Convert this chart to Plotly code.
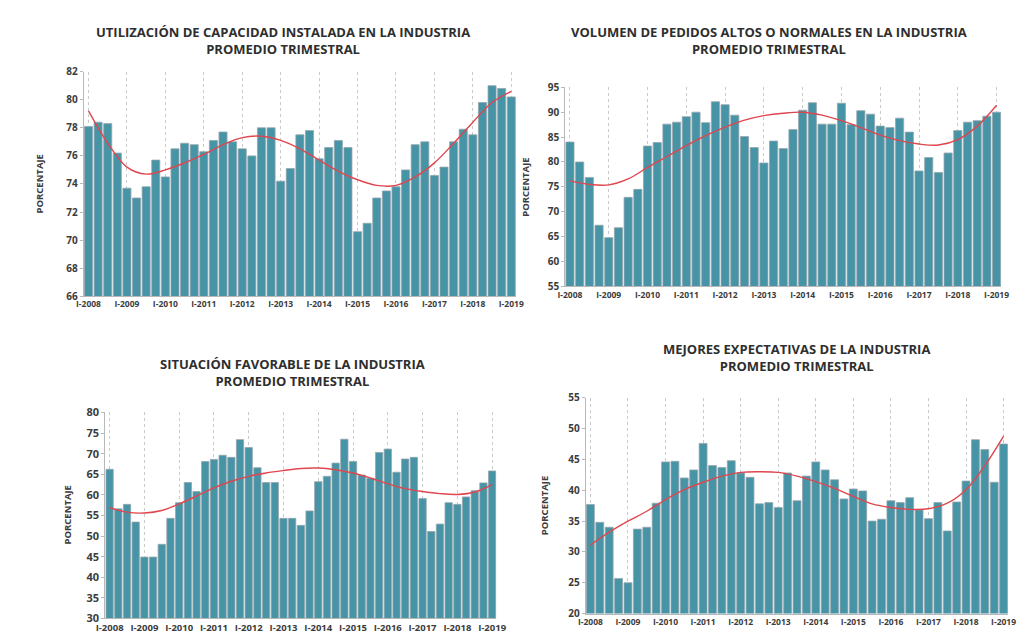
import plotly.graph_objects as go

# ---------------- data ----------------
years = list(range(2008, 2020))
roman = ["I", "II", "III", "IV"]
quarters = [f"{r}-{y}" for y in years for r in roman][:45]
year_ticks = [f"I-{y}" for y in years]

utilizacion = [78.1, 78.4, 78.3, 76.2, 73.7, 73.0, 73.8, 75.7, 74.5, 76.5, 76.9, 76.8, 76.3, 77.1, 77.7,
               77.0, 76.5, 76.0, 78.0, 78.0, 74.2, 75.1, 77.5, 77.8, 75.8, 76.6, 77.1, 76.6, 70.6, 71.2,
               73.0, 73.5, 73.8, 75.0, 76.8, 77.0, 74.6, 75.2, 77.0, 77.9, 77.5, 79.8, 81.0, 80.8, 80.2]
utilizacion_trend = [79.2, 76.9, 75.2, 74.7, 75.0, 75.5, 76.1, 76.8, 77.3, 77.4, 77.1, 76.5,
                     75.7, 74.9, 74.3, 73.9, 73.9, 74.5, 75.5, 76.9, 78.4, 79.8, 80.6]

volumen = [84.0, 80.0, 76.9, 67.3, 64.8, 66.8, 72.9, 74.5, 83.2, 83.9, 87.6, 88.0, 89.1, 90.0, 87.9,
           92.1, 91.5, 89.4, 85.1, 82.9, 79.8, 84.2, 82.7, 86.5, 90.4, 91.9, 87.6, 87.6, 91.8, 87.5,
           90.3, 89.6, 87.2, 86.9, 88.8, 86.0, 78.2, 80.9, 77.9, 81.8, 86.3, 88.0, 88.3, 89.2, 90.0]
volumen_trend = [76.2, 75.5, 75.4, 76.6, 78.9, 81.1, 83.3, 85.3, 87.0, 88.4, 89.3, 89.8,
                 90.0, 89.4, 88.3, 86.9, 85.4, 84.3, 83.6, 83.4, 84.5, 87.2, 91.4]

situacion = [66.2, 56.6, 57.7, 53.4, 44.9, 44.9, 48.0, 54.3, 58.1, 63.0, 60.8, 68.1, 68.6, 69.6, 69.1,
             73.4, 71.5, 66.6, 63.0, 63.0, 54.3, 54.3, 52.6, 56.1, 63.2, 64.5, 67.7, 73.5, 68.1, 64.8,
             64.0, 70.3, 71.1, 65.5, 68.7, 69.1, 59.1, 51.1, 52.9, 58.1, 57.7, 59.5, 61.0, 62.9, 65.8]
situacion_trend = [56.9, 55.8, 55.6, 56.2, 57.8, 59.7, 61.7, 63.3, 64.5, 65.3, 65.9, 66.4,
                   66.5, 66.1, 65.3, 64.1, 62.7, 61.5, 60.8, 60.3, 60.1, 60.7, 62.5]

expectativas = [37.7, 34.8, 34.0, 25.7, 25.0, 33.7, 34.0, 37.9, 44.6, 44.7, 42.0, 43.3, 47.6, 44.0, 43.7,
                44.8, 42.8, 42.1, 37.8, 38.0, 37.2, 42.8, 38.3, 42.3, 44.6, 43.3, 41.7, 38.6, 40.2, 39.9,
                35.0, 35.3, 38.3, 38.0, 38.8, 36.8, 35.4, 38.0, 33.4, 38.1, 41.5, 48.2, 46.6, 41.3, 47.5]
expectativas_trend = [31.1, 33.2, 35.0, 36.6, 38.5, 40.1, 41.3, 42.3, 42.9, 43.0, 42.9, 42.3,
                      41.4, 40.3, 39.0, 37.8, 37.2, 36.9, 37.0, 37.9, 40.1, 44.0, 48.8]

titles = [
    "UTILIZACIÓN DE CAPACIDAD INSTALADA EN LA INDUSTRIA<br>PROMEDIO TRIMESTRAL",
    "VOLUMEN DE PEDIDOS ALTOS O NORMALES EN LA INDUSTRIA<br>PROMEDIO TRIMESTRAL",
    "SITUACIÓN FAVORABLE DE LA INDUSTRIA<br>PROMEDIO TRIMESTRAL",
    "MEJORES EXPECTATIVAS DE LA INDUSTRIA<br>PROMEDIO TRIMESTRAL",
]
y_title = "PORCENTAJE"

# ---------------- layout geometry (pixels) ----------------
W, H = 1025, 637
panels = [
    dict(vals=utilizacion, trend=utilizacion_trend, rng=[66, 82], dtick=2,
         box=(67, 508, 57, 287), title_xy=(270, 25), ytitle_x=22, tickfont=8.5, yfont=10),
    dict(vals=volumen, trend=volumen_trend, rng=[55, 95], dtick=5,
         box=(558, 1003, 73, 277), title_xy=(766, 25), ytitle_x=518, tickfont=8.5, yfont=10),
    dict(vals=situacion, trend=situacion_trend, rng=[30, 80], dtick=5,
         box=(89, 488, 406, 617), title_xy=(280, 365), ytitle_x=50, tickfont=9.5, yfont=11),
    dict(vals=expectativas, trend=expectativas_trend, rng=[20, 55], dtick=5,
         box=(579, 1010, 391, 612), title_xy=(794, 350), ytitle_x=537, tickfont=8.5, yfont=10),
]

FONT = "Open Sans"
TXT = "#3c3c3c"
BAR = "#4694a6"
BAR_EDGE = "#95a6ad"
RED = "#e0464e"

fig = go.Figure()
annotations = []
for i, p in enumerate(panels, start=1):
    xa = "x" if i == 1 else f"x{i}"
    ya = "y" if i == 1 else f"y{i}"
    fig.add_trace(go.Bar(x=quarters, y=p["vals"], xaxis=xa, yaxis=ya,
                         marker=dict(color=BAR, line=dict(color=BAR_EDGE, width=0.8)),
                         showlegend=False, hoverinfo="x+y"))
    fig.add_trace(go.Scatter(x=quarters[::2], y=p["trend"], xaxis=xa, yaxis=ya, mode="lines",
                             line=dict(color=RED, width=1.4, shape="spline", smoothing=1.0),
                             showlegend=False, hoverinfo="skip"))
    x0, x1, y0, y1 = p["box"]
    xdom = [x0 / W, x1 / W]
    ydom = [1 - y1 / H, 1 - y0 / H]
    xkey = "xaxis" if i == 1 else f"xaxis{i}"
    ykey = "yaxis" if i == 1 else f"yaxis{i}"
    fig.update_layout(**{
        xkey: dict(domain=xdom, anchor=ya, type="category", categoryorder="array",
                   categoryarray=quarters, range=[-0.5, 44.5],
                   tickmode="array", tickvals=year_ticks, ticktext=year_ticks,
                   tickangle=0, showgrid=True, gridcolor="#c9c9c9", griddash="dot", gridwidth=1,
                   showline=True, linecolor="#b8b8b8", linewidth=1, ticks="",
                   tickfont=dict(family=FONT, size=p["tickfont"], color=TXT, weight="bold"),
                   fixedrange=True),
        ykey: dict(domain=ydom, anchor=xa, range=p["rng"], dtick=p["dtick"], tick0=p["rng"][0],
                   showgrid=False, zeroline=False, showline=True, linecolor="#b8b8b8", linewidth=1,
                   ticks="outside", ticklen=3, tickcolor="#b8b8b8",
                   tickfont=dict(family=FONT, size=p["yfont"], color=TXT, weight="bold"),
                   fixedrange=True),
    })
    tx, ty = p["title_xy"]
    annotations.append(dict(text=titles[i - 1], x=tx / W, y=1 - ty / H, xref="paper", yref="paper",
                            xanchor="center", yanchor="middle", showarrow=False, align="center",
                            font=dict(family=FONT, size=13, color="#2e2e2e", weight="bold")))
    annotations.append(dict(text=y_title, x=p["ytitle_x"] / W, y=1 - ((y0 + y1) / 2) / H,
                            xref="paper", yref="paper", xanchor="center", yanchor="middle",
                            textangle=-90, showarrow=False,
                            font=dict(family=FONT, size=9.5, color=TXT, weight="bold")))

fig.update_layout(width=W, height=H, autosize=False, margin=dict(l=0, r=0, t=0, b=0),
                  paper_bgcolor="white", plot_bgcolor="white", bargap=0.16,
                  annotations=annotations, showlegend=False)

fig.write_html("out.html", config={"displayModeBar": False})
